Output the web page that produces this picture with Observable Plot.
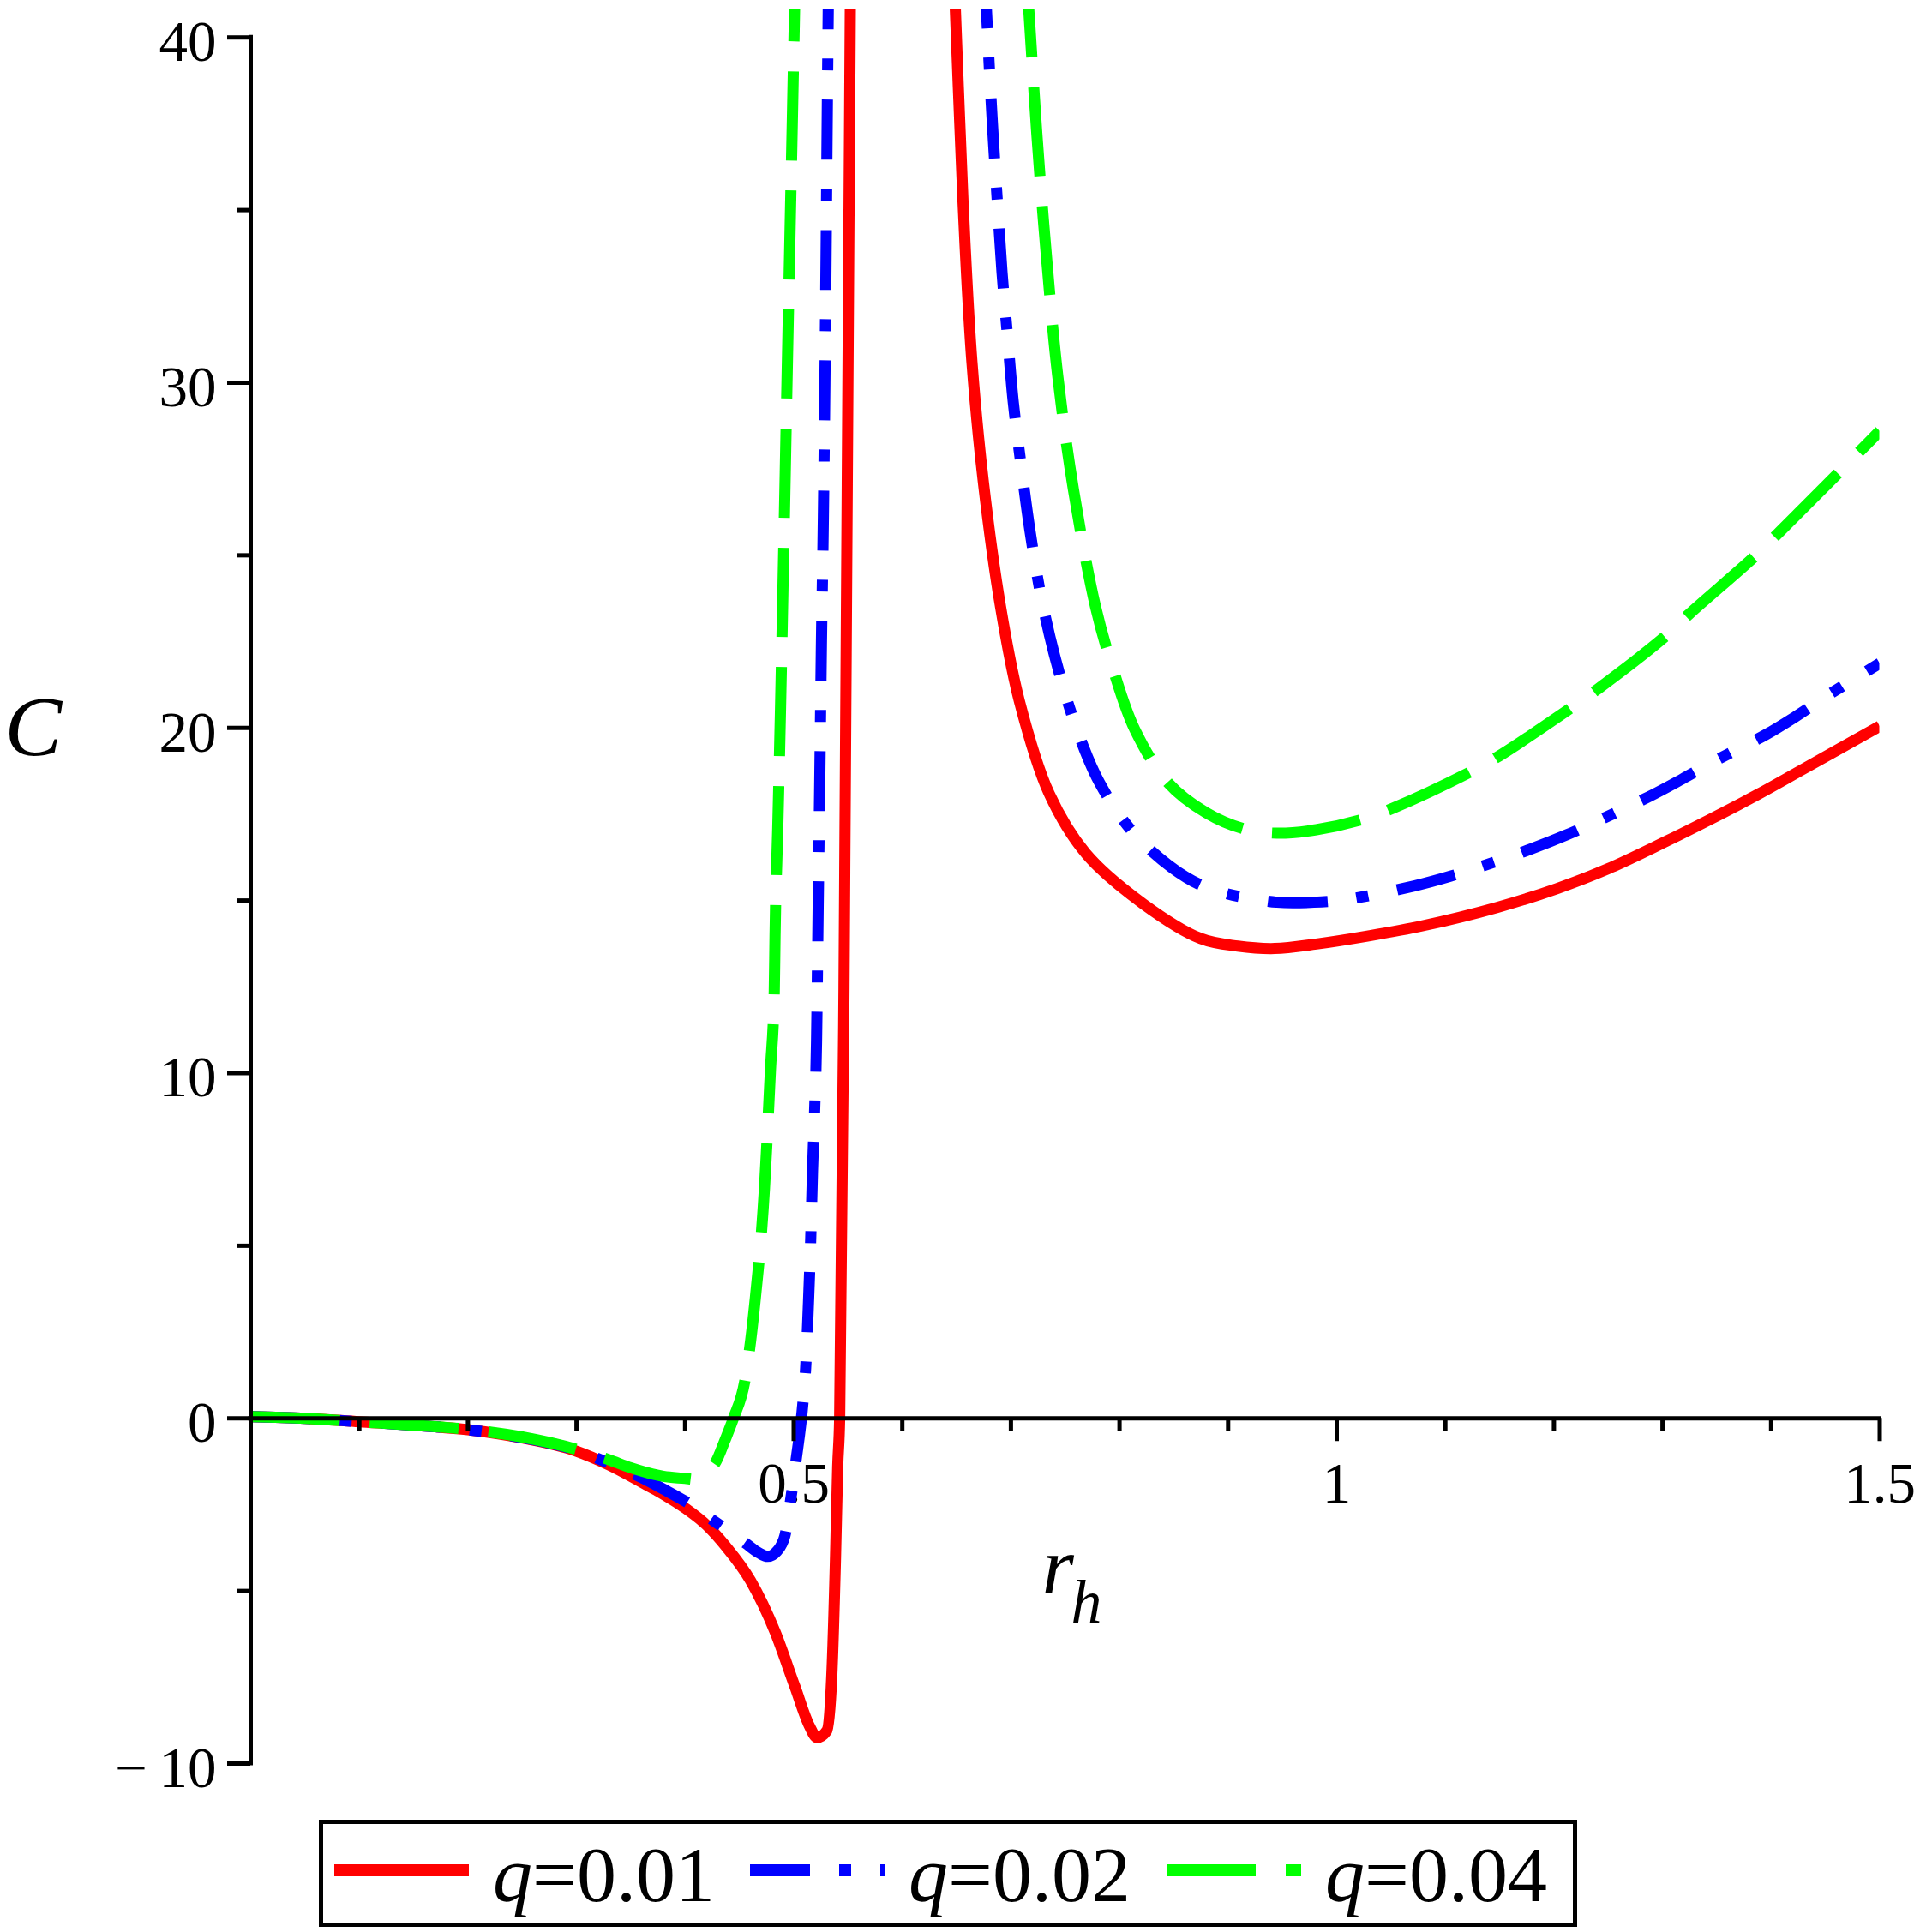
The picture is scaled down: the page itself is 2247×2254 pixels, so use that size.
<!DOCTYPE html>
<html>
<head>
<meta charset="utf-8">
<script src="https://cdn.jsdelivr.net/npm/d3@7"></script>
<script src="https://cdn.jsdelivr.net/npm/@observablehq/plot@0.6"></script>
<style>
  html, body { margin: 0; padding: 0; background: #fff; }
  #chart svg { display: block; }
  #legend {
    margin-left: 372px; margin-top: 13px;
    width: 1468px; height: 125px;
    border: 5px solid #000; box-sizing: border-box;
  }
  #legend svg { display: block; }
</style>
</head>
<body>
<div id="chart"></div>
<div id="legend"></div>
<script>
// ---------- data ----------
const seriesLabels = ["q=0.01", "q=0.02", "q=0.04"];
const seriesColors = ["#ff0000", "#0000ff", "#00ff00"];

// q = 0.01 (solid red)
const q001LeftX  = [0, 0.05, 0.1, 0.15, 0.2, 0.25, 0.3, 0.33, 0.36, 0.38, 0.4, 0.42, 0.4375, 0.4602, 0.4829, 0.501, 0.5146, 0.5214, 0.5305, 0.535, 0.5385, 0.5405, 0.5423, 0.5463, 0.5521, 0.5524];
const q001LeftY  = [0.05, 0.0, -0.1, -0.2, -0.33, -0.57, -0.95, -1.35, -1.85, -2.2, -2.6, -3.1, -3.71, -4.70, -6.19, -7.76, -8.92, -9.25, -9.05, -7.5, -4.0, -1.4, 0, 12.5, 40.8, 42];
const q001RightX = [0.6474, 0.6489, 0.6528, 0.6576, 0.6641, 0.6747, 0.6905, 0.7076, 0.7352, 0.7694, 0.822, 0.8747, 0.9088, 0.9429, 0.9812, 1.0282, 1.0794, 1.1476, 1.2031, 1.2499, 1.3011, 1.3438, 1.3864, 1.4291, 1.5];
const q001RightY = [42, 40.75, 37.6, 34.1, 30.6, 27.1, 23.5, 20.8, 18.1, 16.35, 14.9, 13.9, 13.68, 13.61, 13.74, 13.97, 14.27, 14.8, 15.35, 15.92, 16.68, 17.35, 18.05, 18.8, 20.05];

// q = 0.02 (blue dash-dot)
const q002LeftX  = [0, 0.05, 0.1, 0.15, 0.2, 0.25, 0.3, 0.33, 0.36, 0.38, 0.4, 0.43, 0.4557, 0.468, 0.476, 0.4845, 0.4919, 0.497, 0.502, 0.5085, 0.511, 0.5136, 0.5157, 0.5173, 0.5194, 0.521, 0.5225, 0.524, 0.5255, 0.5273, 0.5287, 0.5298, 0.5308, 0.532];
const q002LeftY  = [0.05, 0.0, -0.1, -0.2, -0.33, -0.56, -0.93, -1.3, -1.72, -2.05, -2.4, -3.05, -3.62, -3.9, -4.0, -3.85, -3.4, -2.4, -1.25, 0.45, 1.47, 3.36, 5.25, 7.15, 9.04, 10.9, 14.8, 18.5, 22.4, 26.1, 30.0, 33.7, 37.5, 41.5];
const q002RightX = [0.6755, 0.6776, 0.6805, 0.6839, 0.6878, 0.6918, 0.6970, 0.7023, 0.7094, 0.7176, 0.7278, 0.741, 0.7581, 0.7818, 0.816, 0.8615, 0.8917, 0.945, 0.979, 1.0112, 1.0644, 1.0964, 1.1305, 1.1796, 1.2116, 1.2414, 1.2883, 1.3182, 1.348, 1.3949, 1.4226, 1.4525, 1.5];
const q002RightY = [42, 40.7, 38.9, 37.0, 35.1, 33.2, 31.3, 29.4, 27.6, 25.7, 23.8, 22.0, 20.2, 18.4, 16.85, 15.67, 15.26, 14.95, 14.95, 15.04, 15.37, 15.63, 15.96, 16.5, 16.9, 17.32, 18.02, 18.52, 19.04, 19.8, 20.33, 20.95, 21.87];

// q = 0.04 (green long dash)
const q004LeftX  = [0, 0.05, 0.1, 0.15, 0.2, 0.25, 0.3, 0.33, 0.35, 0.38, 0.4, 0.41, 0.42, 0.4285, 0.4365, 0.4445, 0.4549, 0.4639, 0.4731, 0.4786, 0.4821, 0.4828, 0.4853, 0.4878, 0.49, 0.4922, 0.4943, 0.4965, 0.4988, 0.5012];
const q004LeftY  = [0.05, 0.0, -0.1, -0.2, -0.32, -0.54, -0.9, -1.2, -1.43, -1.68, -1.74, -1.77, -1.55, -1.25, -0.65, 0.0, 1.07, 3.25, 6.68, 10.1, 12.4, 14.0, 17.1, 20.5, 23.9, 27.4, 30.8, 34.2, 37.7, 41.5];
const q004RightX = [0.714, 0.7181, 0.7241, 0.7326, 0.7431, 0.7576, 0.778, 0.7941, 0.8141, 0.845, 0.8794, 0.914, 0.945, 0.9812, 1.0239, 1.0516, 1.1241, 1.1497, 1.2158, 1.2414, 1.3033, 1.3246, 1.3864, 1.4056, 1.4631, 1.5];
const q004RightY = [42, 40.0, 37.1, 33.7, 30.2, 26.9, 23.5, 21.7, 19.95, 18.4, 17.55, 17.08, 16.95, 17.05, 17.35, 17.67, 18.74, 19.19, 20.58, 21.15, 22.67, 23.30, 25.01, 25.61, 27.42, 28.6];

// axes
const xMajorTicks = [0.5, 1, 1.5];
const xMinorTicks = [0.1, 0.2, 0.3, 0.4, 0.6, 0.7, 0.8, 0.9, 1.1, 1.2, 1.3, 1.4];
const xTickLabels = ["0.5", "1", "1.5"];
const yMajorTicks = [-10, 0, 10, 20, 30, 40];
const yMinorTicks = [-5, 5, 15, 25, 35];
const yTickLabels = ["\u2212\u200910", "0", "10", "20", "30", "40"];

// ---------- build ----------
const FONT = '"Liberation Serif", "Times New Roman", Times, serif';
const dashes = [null, "70 34 14 34", "104 35"];

const branches = [
  [[q001LeftX, q001LeftY], [q001RightX, q001RightY]],
  [[q002LeftX, q002LeftY], [q002RightX, q002RightY]],
  [[q004LeftX, q004LeftY], [q004RightX, q004RightY]]
];
const branchCurves = ["monotone-x", "catmull-rom"];

const curveMarks = branches.flatMap((bs, si) =>
  bs.map(([xs, ys], bi) => {
    const rows = xs.map((x, i) => ({x, y: ys[i]}));
    const opts = {
      x: "x", y: "y",
      stroke: seriesColors[si], strokeWidth: 13,
      strokeLinecap: "butt", strokeLinejoin: "round",
      curve: branchCurves[bi],
      clip: true
    };
    if (dashes[si]) opts.strokeDasharray = dashes[si];
    return Plot.line(rows, opts);
  })
);

const axisStyle = {stroke: "black", strokeWidth: 5};

const chart = Plot.plot({
  width: 2247,
  height: 2110,
  marginLeft: 292,
  marginRight: 54.5,
  marginTop: 11,
  marginBottom: 53,
  x: {domain: [0, 1.5], axis: null},
  y: {domain: [-10, 40.8], axis: null},
  style: {fontFamily: FONT, background: "white", color: "black", overflow: "visible"},
  marks: [
    // tick labels (drawn beneath the curves)
    Plot.text(xMajorTicks, {
      x: d => d, y: () => 0, text: (d, i) => xTickLabels[i],
      dy: 98, lineAnchor: "bottom", textAnchor: "middle",
      fontSize: 67, fontFamily: FONT, fill: "black"
    }),
    Plot.text(yMajorTicks, {
      x: () => 0, y: d => d, text: (d, i) => yTickLabels[i],
      dx: -40, dy: 6, lineAnchor: "middle", textAnchor: "end",
      fontSize: 67, fontFamily: FONT, fill: "black"
    }),
    // axis titles
    Plot.text(["C"], {
      x: () => 0, y: () => 20, text: d => d,
      dx: -287, textAnchor: "start", lineAnchor: "middle",
      fontSize: 100, fontStyle: "italic", fontFamily: FONT, fill: "black"
    }),
    Plot.text(["r"], {
      frameAnchor: "top-left", text: d => d,
      dx: 923, dy: 1847, textAnchor: "start", lineAnchor: "bottom",
      fontSize: 96, fontStyle: "italic", fontFamily: FONT, fill: "black"
    }),
    Plot.text(["h"], {
      frameAnchor: "top-left", text: d => d,
      dx: 957, dy: 1881, textAnchor: "start", lineAnchor: "bottom",
      fontSize: 72, fontStyle: "italic", fontFamily: FONT, fill: "black"
    }),
    // curves
    ...curveMarks,
    // axes on top
    Plot.ruleX([0], {x: d => d, y1: () => -10, y2: () => 40, ...axisStyle, strokeLinecap: "square"}),
    Plot.ruleY([0], {y: d => d, x1: () => 0, x2: () => 1.5, ...axisStyle, strokeLinecap: "square"}),
    Plot.ruleX(xMajorTicks, {x: d => d, y1: () => 0, y2: () => 0, insetTop: 0, insetBottom: -27, ...axisStyle}),
    Plot.ruleX(xMinorTicks, {x: d => d, y1: () => 0, y2: () => 0, insetTop: 0, insetBottom: -15, ...axisStyle}),
    Plot.ruleY(yMajorTicks, {y: d => d, x1: () => 0, x2: () => 0, insetLeft: -27, insetRight: 0, ...axisStyle}),
    Plot.ruleY(yMinorTicks, {y: d => d, x1: () => 0, x2: () => 0, insetLeft: -15, insetRight: 0, ...axisStyle})
  ]
});
document.getElementById("chart").appendChild(chart);

// ---------- legend (below the SVG) ----------
const legendItems = [
  {lineX: 13, textX: 198},
  {lineX: 498, textX: 683},
  {lineX: 984, textX: 1169}
];
const ns = "http://www.w3.org/2000/svg";
const lsvg = document.createElementNS(ns, "svg");
lsvg.setAttribute("width", 1458);
lsvg.setAttribute("height", 115);
seriesLabels.forEach((lab, i) => {
  const it = legendItems[i];
  const ln = document.createElementNS(ns, "line");
  ln.setAttribute("x1", it.lineX);
  ln.setAttribute("x2", it.lineX + 157);
  ln.setAttribute("y1", 54);
  ln.setAttribute("y2", 54);
  ln.setAttribute("stroke", seriesColors[i]);
  ln.setAttribute("stroke-width", 14);
  if (dashes[i]) ln.setAttribute("stroke-dasharray", dashes[i]);
  lsvg.appendChild(ln);
  const tx = document.createElementNS(ns, "text");
  tx.setAttribute("x", it.textX);
  tx.setAttribute("y", 90);
  tx.setAttribute("font-family", FONT);
  tx.setAttribute("font-size", 92);
  tx.setAttribute("fill", "black");
  const [sym, val] = lab.split("=");
  const t1 = document.createElementNS(ns, "tspan");
  t1.setAttribute("font-style", "italic");
  t1.textContent = sym;
  const t2 = document.createElementNS(ns, "tspan");
  t2.textContent = "=" + val;
  tx.appendChild(t1);
  tx.appendChild(t2);
  lsvg.appendChild(tx);
});
document.getElementById("legend").appendChild(lsvg);
</script>
</body>
</html>
